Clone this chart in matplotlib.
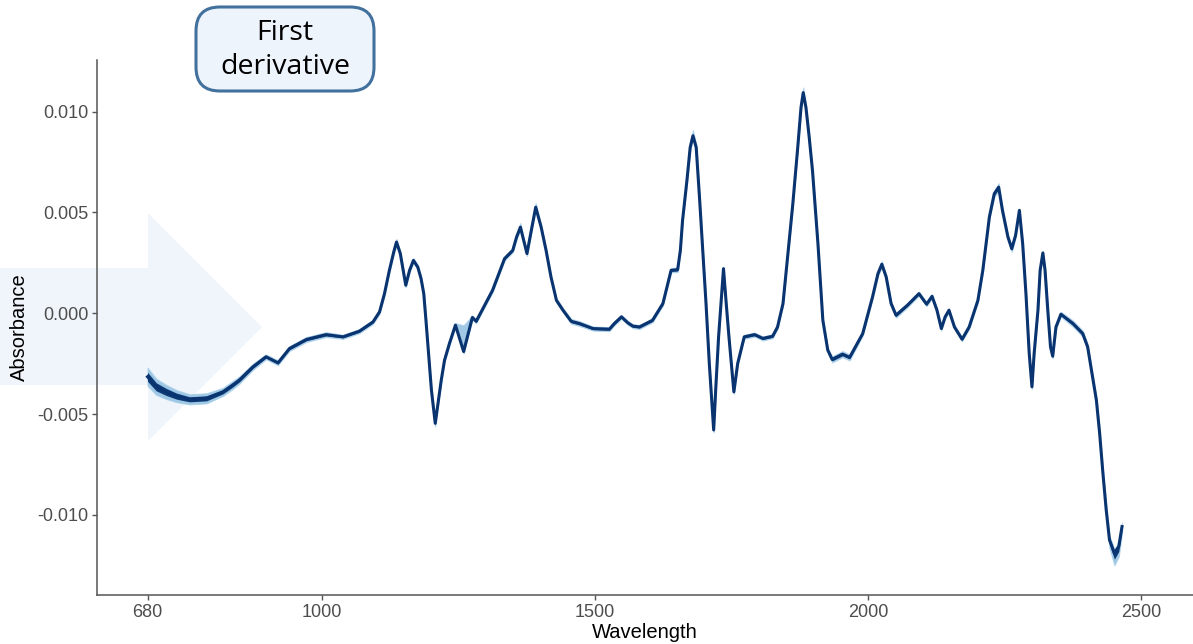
import numpy as np
import matplotlib
matplotlib.use("Agg")
import matplotlib.pyplot as plt
from matplotlib.patches import Polygon, FancyBboxPatch

# Spektrum (första derivatan)
wavelength = [680, 696, 714, 733, 757, 788, 818, 836, 848, 873,
              897, 919, 940, 971, 1007, 1038, 1068, 1093, 1105, 1114,
              1123, 1131, 1136, 1143, 1153, 1160, 1167, 1175, 1181, 1186,
              1190, 1200, 1207, 1212, 1218, 1224, 1233, 1244, 1259, 1275,
              1282, 1312, 1334, 1349, 1356, 1363, 1369, 1375, 1383, 1391,
              1401, 1410, 1419, 1429, 1441, 1456, 1471, 1496, 1526, 1535,
              1548, 1560, 1569, 1581, 1605, 1624, 1633, 1639, 1651, 1656,
              1660, 1668, 1674, 1679, 1685, 1691, 1697, 1703, 1709, 1717,
              1721, 1726, 1735, 1740, 1745, 1754, 1761, 1773, 1792, 1807,
              1825, 1834, 1844, 1853, 1862, 1871, 1877, 1881, 1886, 1892,
              1898, 1908, 1917, 1926, 1934, 1953, 1966, 1990, 2008, 2018,
              2025, 2033, 2042, 2051, 2072, 2093, 2107, 2117, 2126, 2134,
              2141, 2148, 2158, 2172, 2185, 2201, 2210, 2222, 2231, 2239,
              2246, 2256, 2263, 2270, 2277, 2283, 2289, 2295, 2300, 2304,
              2311, 2315, 2320, 2324, 2329, 2334, 2338, 2344, 2353, 2375,
              2393, 2402, 2408, 2418, 2424, 2430, 2436, 2442, 2451, 2459,
              2465]
absorbance = [-0.00315, -0.00365, -0.0039, -0.00411, -0.00427, -0.00422, -0.0039, -0.00356, -0.00332, -0.00266,
              -0.00216, -0.00246, -0.00175, -0.0013, -0.00106, -0.00117, -0.00089, -0.00043, 0.00007, 0.00097,
              0.00213, 0.00304, 0.00353, 0.00296, 0.00139, 0.00213, 0.00262, 0.00229, 0.00172, 0.00097,
              -0.00035, -0.00381, -0.00546, -0.00447, -0.00332, -0.00233, -0.0015, -0.00059, -0.0019, -0.00021,
              -0.0004, 0.00114, 0.00271, 0.00312, 0.00378, 0.00427, 0.00361, 0.00296, 0.00411, 0.00526,
              0.00427, 0.00312, 0.0018, 0.00064, 0.00015, -0.0004, -0.00051, -0.00076, -0.00079, -0.00051,
              -0.00018, -0.00048, -0.00064, -0.00068, -0.00035, 0.00048, 0.00147, 0.00213, 0.00216, 0.00312,
              0.0046, 0.00658, 0.00823, 0.0088, 0.00823, 0.00576, 0.00312, 0.00048, -0.00249, -0.00579,
              -0.00365, -0.00117, 0.00221, 0.00048, -0.00117, -0.0039, -0.00249, -0.00117, -0.00106, -0.00125,
              -0.00114, -0.00068, 0.00048, 0.00296, 0.00543, 0.00823, 0.01021, 0.01094, 0.01021, 0.00873,
              0.00708, 0.00345, -0.00035, -0.00183, -0.00229, -0.00203, -0.00219, -0.00101, 0.00081, 0.00197,
              0.00243, 0.0018, 0.00048, -0.0001, 0.0004, 0.00097, 0.00045, 0.00084, 0.00015, -0.00076,
              -0.00018, 0.00015, -0.00068, -0.00129, -0.00068, 0.00064, 0.00213, 0.00477, 0.00593, 0.00625,
              0.0051, 0.00378, 0.0032, 0.00386, 0.0051, 0.00345, 0.00097, -0.002, -0.00365, -0.002,
              0.00015, 0.00213, 0.00299, 0.00213, 0.00015, -0.00167, -0.00213, -0.00068, -0.00005, -0.00051,
              -0.00101, -0.00167, -0.00266, -0.00431, -0.00596, -0.00794, -0.00975, -0.01124, -0.0119, -0.01157,
              -0.01058]

# Spridning mellan proverna, i enheter om 1e-4 (nedåt / uppåt)
spread_lo_e4 = [4.5, 4, 3.5, 3, 2.5, 2.5, 2, 2, 1.8, 1.5,
                1.2, 1.2, 1.2, 1.2, 1.2, 1, 1, 1, 1, 1,
                1, 1, 1.5, 1, 1, 1, 1.2, 1, 1, 1,
                1, 1, 1.5, 1, 1, 1, 1, 1, 1, 1,
                1, 1, 1, 1, 1, 1.5, 1, 1.2, 1, 1.5,
                1, 1, 1, 1, 1, 1.2, 1.2, 1, 1, 1,
                1, 1, 1, 1, 1, 1, 1, 1, 1.2, 1,
                1, 1, 1.5, 2, 1.5, 1, 1, 1, 1, 1.2,
                1, 1, 1, 1, 1, 1, 1, 1, 1, 1,
                1, 1, 1, 1, 1, 1, 1.5, 2, 1.5, 1,
                1, 1, 1, 1, 1.5, 1.5, 1.5, 1, 1, 1,
                1.5, 1, 1, 1.2, 1, 1, 1, 1, 1, 1,
                1, 1, 1, 1, 1, 1, 1, 1, 1.5, 2,
                1.5, 1, 1.5, 1, 1, 1, 1, 1, 1, 1,
                1, 1, 1, 1, 1, 1, 1, 1, 1.2, 1.5,
                1.5, 1.5, 1.5, 1.5, 2, 2, 2.5, 4, 6, 5,
                3]
spread_hi_e4 = [4.5, 4, 3.5, 3, 2.5, 2.5, 2, 2, 1.8, 1.5,
                1.2, 1.2, 1.2, 1.2, 1.2, 1, 1, 1, 1, 1,
                1, 1, 1.5, 1, 1, 1, 1.2, 1, 1, 1,
                1, 1, 1.5, 1, 1, 1, 1, 1, 13, 1,
                1, 1, 1, 1, 1, 2, 1, 1.2, 1, 2,
                1, 1, 1, 1, 1, 1.2, 1.2, 1, 1, 1,
                1, 1, 1, 1, 1, 1, 1, 1, 1.2, 1,
                1, 1, 1.5, 2.8, 1.5, 1, 1, 1, 1, 1.2,
                1, 1, 1, 1, 1, 1, 1, 1, 1, 1,
                1, 1, 1, 1, 1, 1, 1.5, 2.5, 1.5, 1,
                1, 1, 1, 1, 1.5, 1.5, 1.5, 1, 1, 1,
                1.5, 1, 1, 1.2, 1, 1, 1, 1, 1, 1,
                1, 1, 1, 1, 1, 1, 1, 1, 1.5, 2,
                1.5, 1, 1.5, 1, 1, 1, 1, 1, 1, 1,
                1, 1, 1, 1, 1, 1, 1, 1, 1.2, 1.5,
                1.5, 1.5, 1.5, 1.5, 2, 2, 2.5, 2, 2, 2,
                2]

x_ticks = [680, 1000, 1500, 2000, 2500]
y_ticks = [-0.010, -0.005, 0.000, 0.005, 0.010]
y_tick_labels = ["-0.010", "-0.005", "0.000", "0.005", "0.010"]

W, H = 1193, 644
fig = plt.figure(figsize=(W / 100, H / 100), dpi=100)
ax = fig.add_axes([97.3 / W, 49.5 / H, 1095.7 / W, 534.5 / H])
ax.patch.set_alpha(0)

# Stor ljus pil i bakgrunden
arrow_px = [(0, 268), (148, 268), (148, 213), (262, 327), (148, 441), (148, 385), (0, 385)]
arrow = Polygon([(px / W, 1 - py / H) for px, py in arrow_px], closed=True,
                transform=fig.transFigure, facecolor="#f0f5fb", edgecolor="none", zorder=-5)
fig.patches.append(arrow)

wl = np.array(wavelength)
ab = np.array(absorbance)
s_lo = np.array(spread_lo_e4) * 1e-4
s_hi = np.array(spread_hi_e4) * 1e-4

ax.fill_between(wl, ab - s_lo, ab + s_hi, color="#8fbfe0", alpha=0.85, linewidth=0.8,
                edgecolor="#a9d0ea", zorder=2)
ax.fill_between(wl, ab - 0.5 * s_lo, ab + 0.5 * np.minimum(s_hi, s_lo * 1.5),
                color="#0b3a75", linewidth=0, zorder=3)
ax.plot(wl, ab, color="#0a3470", linewidth=2.2, solid_joinstyle="round", zorder=4)

ax.set_xlim(588, 2595)
ax.set_ylim(-0.01395, 0.01256)
ax.set_xticks(x_ticks)
ax.set_xticklabels([str(t) for t in x_ticks])
ax.set_yticks(y_ticks)
ax.set_yticklabels(y_tick_labels)

for side in ["top", "right"]:
    ax.spines[side].set_visible(False)
for side in ["left", "bottom"]:
    ax.spines[side].set_color("#555555")
    ax.spines[side].set_linewidth(1.1)
ax.tick_params(colors="#555555", length=3.5, width=1, labelsize=13, pad=3,
               labelcolor="#4d4d4d")
for lab in ax.get_xticklabels() + ax.get_yticklabels():
    lab.set_family("Liberation Sans")

ax.set_xlabel("Wavelength", fontsize=14.5, family="Liberation Sans", labelpad=2)
ax.set_ylabel("Absorbance", fontsize=14.5, family="Liberation Sans", labelpad=6)

# Rubrikruta
box = FancyBboxPatch((196 / W, 1 - 91 / H), 178 / W, 84 / H,
                     boxstyle="round,pad=0,rounding_size=0.02", transform=fig.transFigure,
                     facecolor="#eef4fc", edgecolor="#41719c", linewidth=2.2, zorder=5,
                     mutation_aspect=W / H)
fig.patches.append(box)
fig.text(285 / W, 1 - 50 / H, "First\nderivative", ha="center", va="center",
         fontsize=20.5, family="Open Sans", linespacing=1.3, color="black", zorder=6)

fig.savefig("out.png", dpi=100)
